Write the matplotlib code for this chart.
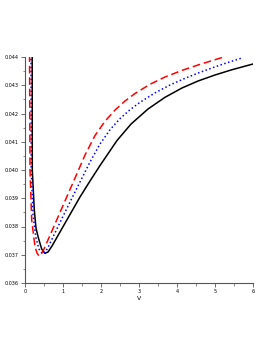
import numpy as np
import matplotlib.pyplot as plt

# values
v_black = [0.189, 0.192, 0.245, 0.289, 0.35, 0.439, 0.526, 0.605, 0.711, 0.921, 1.184, 1.447, 1.711, 1.974,
           2.421, 2.789, 3.237, 3.684, 4.132, 4.553, 5.0, 5.447, 6.0]
y_black = [0.0445, 0.0400, 0.038584, 0.037947, 0.03761, 0.037203, 0.037051, 0.037097, 0.03731, 0.037805,
           0.038425, 0.039044, 0.039611, 0.040159, 0.041044, 0.041625, 0.042159, 0.042573, 0.042903, 0.04315,
           0.043363, 0.04355, 0.043752]

v_red = [0.118, 0.132, 0.176, 0.263, 0.316, 0.368, 0.421, 0.5, 0.711, 1.013, 1.368, 1.579, 1.842, 2.105,
         2.368, 2.632, 2.895, 3.289, 3.684, 4.132, 4.553, 5.237]
y_red = [0.0445, 0.0400, 0.03823, 0.037285, 0.037062, 0.036956, 0.037009, 0.037204, 0.037851, 0.038782,
         0.039876, 0.040527, 0.041218, 0.041724, 0.04212, 0.042442, 0.042708, 0.043034, 0.043292, 0.043526,
         0.043717, 0.044003]

v_blue = [0.158, 0.163, 0.211, 0.289, 0.368, 0.461, 0.526, 0.605, 0.921, 1.211, 1.447, 1.711, 1.974, 2.237,
          2.5, 2.763, 3.026, 3.421, 3.816, 4.211, 4.605, 5.132, 5.737]
y_blue = [0.0445, 0.0400, 0.038407, 0.037593, 0.037204, 0.037027, 0.03708, 0.037257, 0.038142, 0.038938,
          0.039575, 0.040283, 0.04092, 0.041425, 0.041819, 0.042134, 0.042396, 0.042729, 0.043009, 0.043246,
          0.043458, 0.043713, 0.043979]

x_ticks = [0, 1, 2, 3, 4, 5, 6]
y_ticks = [0.036, 0.037, 0.038, 0.039, 0.040, 0.041, 0.042, 0.043, 0.044]

fig = plt.figure(figsize=(2.73, 3.53), dpi=100)
ax = fig.add_axes([25 / 273, 70 / 353, 228 / 273, 226 / 353])

ax.plot(v_black, y_black, color='black', lw=1.1)
ax.plot(v_blue, y_blue, color='blue', lw=1.1, linestyle=(0, (1, 1.6)))
ax.plot(v_red, y_red, color='red', lw=1.1, linestyle=(0, (5, 2.5)))

ax.set_xlim(0, 6)
ax.set_ylim(0.036, 0.044)
ax.set_xticks(x_ticks)
ax.set_xticks(np.arange(0.5, 6, 1), minor=True)
ax.set_yticks(y_ticks)
ax.set_yticks(np.arange(0.0365, 0.044, 0.001), minor=True)
ax.set_yticklabels(['%.3f' % t for t in y_ticks])

for s in ['top', 'right']:
    ax.spines[s].set_visible(False)
for s in ['left', 'bottom']:
    ax.spines[s].set_color('#555555')
    ax.spines[s].set_linewidth(0.8)

ax.tick_params(which='major', length=3, width=0.6, labelsize=3.5, pad=1.5, colors='#555555', labelcolor='black')
ax.tick_params(which='minor', length=1.8, width=0.5, colors='#555555')
ax.set_xlabel('V', fontsize=4.5, labelpad=1)

plt.savefig('out.png', dpi=100)
